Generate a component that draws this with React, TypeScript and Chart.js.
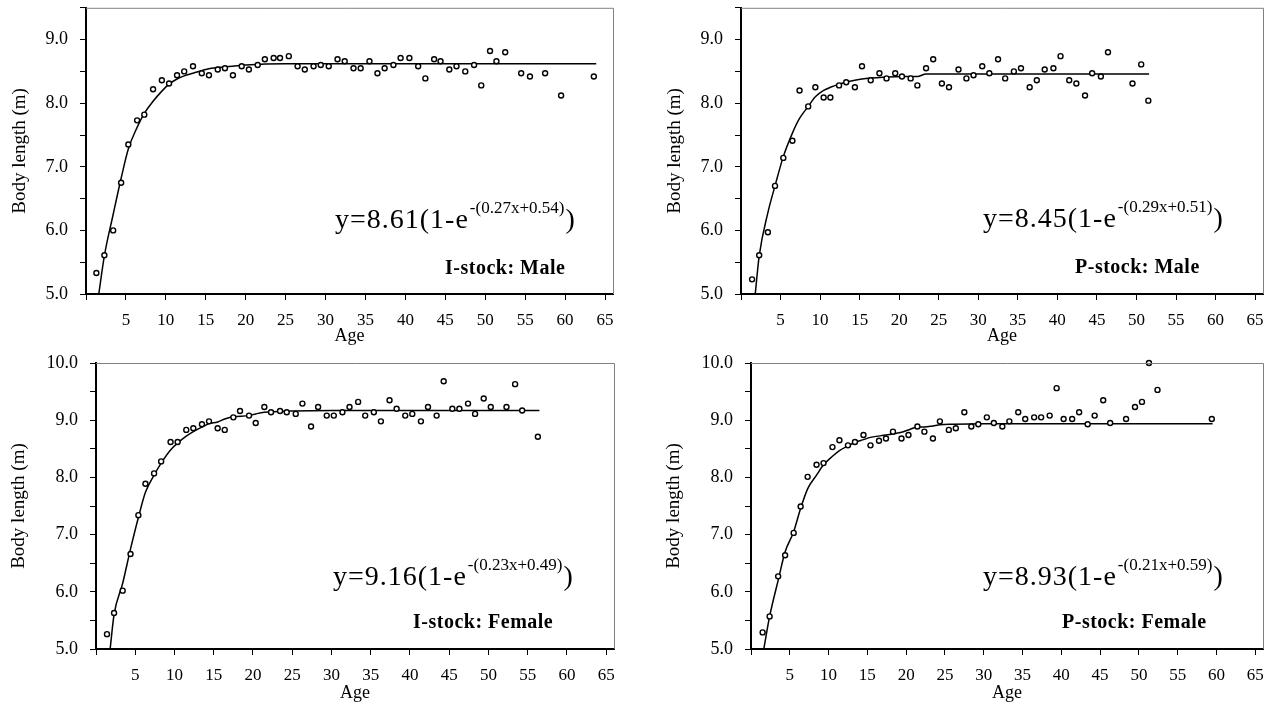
import React, { useEffect, useRef } from 'react';
import { Chart, registerables } from 'chart.js';

Chart.register(...registerables);

// ---------- Data ----------
// I-stock: Male
const iMaleAge = [1.3, 2.3, 3.4, 4.4, 5.3, 6.4, 7.3, 8.4, 9.5, 10.4, 11.4, 12.3, 13.4, 14.5, 15.4, 16.5, 17.4, 18.4, 19.5, 20.4, 21.5, 22.4, 23.5, 24.3, 25.4, 26.5, 27.4, 28.5, 29.4, 30.4, 31.5, 32.4, 33.5, 34.4, 35.5, 36.5, 37.4, 38.5, 39.4, 40.5, 41.6, 42.5, 43.6, 44.4, 45.5, 46.4, 47.5, 48.6, 49.5, 50.6, 51.4, 52.5, 54.5, 55.6, 57.5, 59.5, 63.6];
const iMaleLen = [5.33, 5.61, 6.0, 6.75, 7.35, 7.73, 7.82, 8.22, 8.36, 8.31, 8.44, 8.5, 8.58, 8.47, 8.44, 8.53, 8.55, 8.44, 8.58, 8.53, 8.6, 8.69, 8.71, 8.71, 8.74, 8.58, 8.53, 8.58, 8.6, 8.58, 8.69, 8.66, 8.55, 8.55, 8.66, 8.47, 8.55, 8.6, 8.71, 8.71, 8.58, 8.39, 8.69, 8.66, 8.53, 8.58, 8.5, 8.6, 8.28, 8.82, 8.66, 8.8, 8.47, 8.42, 8.47, 8.12, 8.42];
const iMaleFitAge = [1.6, 2.3, 3.4, 4.4, 5.3, 6.4, 7.3, 8.4, 9.5, 10.4, 11.4, 12.3, 13.4, 15.4, 17.4, 20, 25, 30, 40, 50, 63.9];
const iMaleFitLen = [5.0, 5.6, 6.25, 6.82, 7.28, 7.62, 7.84, 8.03, 8.19, 8.3, 8.38, 8.43, 8.47, 8.54, 8.57, 8.6, 8.62, 8.62, 8.62, 8.62, 8.62];

// P-stock: Male
const pMaleAge = [1.4, 2.3, 3.4, 4.3, 5.35, 6.5, 7.4, 8.5, 9.4, 10.45, 11.3, 12.4, 13.3, 14.4, 15.3, 16.4, 17.5, 18.4, 19.5, 20.35, 21.45, 22.3, 23.4, 24.3, 25.4, 26.3, 27.5, 28.5, 29.4, 30.5, 31.4, 32.5, 33.4, 34.5, 35.4, 36.5, 37.4, 38.4, 39.5, 40.4, 41.5, 42.4, 43.5, 44.4, 45.5, 46.4, 49.5, 50.6, 51.5];
const pMaleLen = [5.23, 5.61, 5.97, 6.7, 7.14, 7.41, 8.2, 7.95, 8.25, 8.09, 8.09, 8.28, 8.33, 8.25, 8.58, 8.36, 8.47, 8.39, 8.47, 8.42, 8.39, 8.28, 8.55, 8.69, 8.31, 8.25, 8.53, 8.39, 8.44, 8.58, 8.47, 8.69, 8.39, 8.5, 8.55, 8.25, 8.36, 8.53, 8.55, 8.74, 8.36, 8.31, 8.12, 8.47, 8.42, 8.8, 8.31, 8.61, 8.04];
const pMaleFitAge = [1.8, 2.3, 3.4, 4.3, 5.35, 6.5, 7.4, 8.5, 9.4, 10.45, 11.3, 12.4, 14.4, 15.3, 18.4, 20.35, 22.3, 23.4, 30, 40, 51.6];
const pMaleFitLen = [5.0, 5.6, 6.28, 6.7, 7.16, 7.53, 7.76, 7.95, 8.1, 8.2, 8.25, 8.3, 8.36, 8.38, 8.41, 8.42, 8.42, 8.46, 8.46, 8.46, 8.46];

// I-stock: Female
const iFemAge = [1.4, 2.3, 3.4, 4.4, 5.4, 6.3, 7.4, 8.3, 9.5, 10.4, 11.5, 12.4, 13.5, 14.4, 15.5, 16.4, 17.5, 18.35, 19.5, 20.35, 21.45, 22.3, 23.45, 24.3, 25.45, 26.3, 27.4, 28.3, 29.4, 30.3, 31.4, 32.3, 33.4, 34.3, 35.4, 36.3, 37.4, 38.3, 39.4, 40.3, 41.4, 42.3, 43.4, 44.3, 45.4, 46.3, 47.4, 48.3, 49.4, 50.3, 52.3, 53.4, 54.3, 56.3];
const iFemLen = [5.26, 5.63, 6.02, 6.66, 7.34, 7.89, 8.07, 8.28, 8.62, 8.62, 8.83, 8.86, 8.93, 8.98, 8.86, 8.83, 9.05, 9.16, 9.08, 8.95, 9.23, 9.14, 9.16, 9.14, 9.11, 9.29, 8.89, 9.23, 9.08, 9.08, 9.14, 9.23, 9.32, 9.08, 9.14, 8.98, 9.35, 9.2, 9.08, 9.11, 8.98, 9.23, 9.08, 9.68, 9.2, 9.2, 9.29, 9.11, 9.38, 9.23, 9.23, 9.63, 9.17, 8.71];
const iFemFitAge = [1.8, 2.3, 3.4, 4.4, 5.4, 6.3, 7.4, 8.3, 9.5, 10.4, 11.5, 12.4, 13.5, 14.4, 15.5, 16.4, 17.5, 19.5, 20.35, 21.45, 25, 30, 40, 56.5];
const iFemFitLen = [5.0, 5.6, 6.15, 6.75, 7.3, 7.74, 8.04, 8.25, 8.48, 8.6, 8.72, 8.8, 8.88, 8.94, 8.97, 9.02, 9.06, 9.08, 9.11, 9.14, 9.16, 9.17, 9.17, 9.17];

// P-stock: Female
const pFemAge = [1.5, 2.4, 3.5, 4.4, 5.5, 6.4, 7.3, 8.45, 9.35, 10.5, 11.4, 12.5, 13.4, 14.5, 15.4, 16.5, 17.4, 18.3, 19.4, 20.3, 21.45, 22.35, 23.45, 24.35, 25.5, 26.4, 27.5, 28.4, 29.3, 30.4, 31.3, 32.4, 33.3, 34.45, 35.35, 36.5, 37.4, 38.5, 39.4, 40.3, 41.4, 42.3, 43.4, 44.3, 45.4, 46.3, 48.35, 49.5, 50.4, 51.3, 52.4, 59.4];
const pFemLen = [5.29, 5.57, 6.27, 6.64, 7.03, 7.49, 8.01, 8.22, 8.25, 8.53, 8.65, 8.56, 8.62, 8.74, 8.56, 8.64, 8.68, 8.8, 8.68, 8.74, 8.89, 8.8, 8.68, 8.98, 8.83, 8.86, 9.14, 8.89, 8.93, 9.05, 8.95, 8.89, 8.98, 9.14, 9.02, 9.05, 9.05, 9.08, 9.56, 9.02, 9.02, 9.14, 8.93, 9.08, 9.35, 8.95, 9.02, 9.23, 9.32, 10.0, 9.53, 9.02];
const pFemFitAge = [1.65, 2.4, 3.5, 4.4, 5.5, 6.4, 7.3, 8.45, 9.35, 10.5, 11.4, 12.5, 13.4, 14.5, 15.4, 17.4, 19.4, 20.3, 21.45, 22.35, 23.45, 24.35, 26, 30, 40, 59.5];
const pFemFitLen = [5.0, 5.57, 6.2, 6.7, 7.05, 7.46, 7.8, 8.04, 8.22, 8.37, 8.47, 8.55, 8.61, 8.66, 8.7, 8.74, 8.79, 8.83, 8.88, 8.88, 8.9, 8.92, 8.93, 8.94, 8.94, 8.94];

const xTickStep = 5;
const yTickStep = 0.5;
const xMin = 0;
const xMax = 66;
const yMin = 5;

const SERIF = '"Liberation Serif", "Times New Roman", serif';

type PanelCfg = {
  age: number[]; len: number[]; fitAge: number[]; fitLen: number[];
  yMax: number; eqMain: string; eqSup: string; label: string;
  canvas: { left: number; top: number; w: number; h: number };
  plot: { left: number; right: number; top: number; bottom: number };
  xAxisH: number; yTitleX: number; eqPos: [number, number]; labelPos: [number, number];
};

const panels: PanelCfg[] = [
  {
    age: iMaleAge, len: iMaleLen, fitAge: iMaleFitAge, fitLen: iMaleFitLen, yMax: 9.5,
    eqMain: 'y=8.61(1-e', eqSup: '-(0.27x+0.54)', label: 'I-stock: Male',
    canvas: { left: 0, top: -15, w: 641, h: 365 },
    plot: { left: 86, right: 613, top: 7, bottom: 294 },
    xAxisH: 52, yTitleX: 20, eqPos: [335, 228], labelPos: [445, 274],
  },
  {
    age: pMaleAge, len: pMaleLen, fitAge: pMaleFitAge, fitLen: pMaleFitLen, yMax: 9.5,
    eqMain: 'y=8.45(1-e', eqSup: '-(0.29x+0.51)', label: 'P-stock: Male',
    canvas: { left: 641, top: -15, w: 641, h: 365 },
    plot: { left: 741, right: 1263, top: 7, bottom: 294 },
    xAxisH: 52, yTitleX: 675, eqPos: [983, 227], labelPos: [1075, 273],
  },
  {
    age: iFemAge, len: iFemLen, fitAge: iFemFitAge, fitLen: iFemFitLen, yMax: 10,
    eqMain: 'y=9.16(1-e', eqSup: '-(0.23x+0.49)', label: 'I-stock: Female',
    canvas: { left: 0, top: 340, w: 641, h: 371 },
    plot: { left: 96, right: 614, top: 363, bottom: 649 },
    xAxisH: 54, yTitleX: 19, eqPos: [333, 585], labelPos: [413, 628],
  },
  {
    age: pFemAge, len: pFemLen, fitAge: pFemFitAge, fitLen: pFemFitLen, yMax: 10,
    eqMain: 'y=8.93(1-e', eqSup: '-(0.21x+0.59)', label: 'P-stock: Female',
    canvas: { left: 641, top: 340, w: 641, h: 371 },
    plot: { left: 751, right: 1263, top: 363, bottom: 649 },
    xAxisH: 54, yTitleX: 674, eqPos: [983, 585], labelPos: [1062, 628],
  },
];

function Panel({ cfg }: { cfg: PanelCfg }) {
  const ref = useRef<HTMLCanvasElement>(null);
  useEffect(() => {
    const c = cfg.canvas;
    const p = cfg.plot;
    const yAxisW = p.left - c.left;
    const padTop = p.top - c.top;
    const padRight = c.left + c.w - p.right;
    const padBottom = c.top + c.h - (p.bottom + cfg.xAxisH);

    const textPlugin = {
      id: 'panelText',
      afterDraw(chart: any) {
        const ctx = chart.ctx as CanvasRenderingContext2D;
        const area = chart.chartArea;
        ctx.save();
        ctx.strokeStyle = '#808080';
        ctx.lineWidth = 1;
        ctx.beginPath();
        ctx.moveTo(area.left, area.top + 0.5);
        ctx.lineTo(area.right + 0.5, area.top + 0.5);
        ctx.lineTo(area.right + 0.5, area.bottom);
        ctx.stroke();

        ctx.fillStyle = '#000';
        ctx.textBaseline = 'alphabetic';
        ctx.textAlign = 'left';
        const ex = cfg.eqPos[0] - c.left;
        const ey = cfg.eqPos[1] - c.top;
        (ctx as any).letterSpacing = '1px';
        ctx.font = `28px ${SERIF}`;
        ctx.fillText(cfg.eqMain, ex, ey);
        const w1 = ctx.measureText(cfg.eqMain).width;
        (ctx as any).letterSpacing = '0px';
        ctx.font = `17px ${SERIF}`;
        ctx.fillText(cfg.eqSup, ex + w1 + 1, ey - 15);
        const w2 = ctx.measureText(cfg.eqSup).width;
        ctx.font = `28px ${SERIF}`;
        ctx.fillText(')', ex + w1 + w2 + 2, ey);

        (ctx as any).letterSpacing = '0.5px';
        ctx.font = `bold 20px ${SERIF}`;
        ctx.fillText(cfg.label, cfg.labelPos[0] - c.left, cfg.labelPos[1] - c.top);
        ctx.restore();
      },
    };

    const chart = new Chart(ref.current as HTMLCanvasElement, {
      type: 'scatter',
      data: {
        datasets: [
          {
            data: cfg.age.map((a, i) => ({ x: a, y: cfg.len[i] })),
            pointRadius: 2.5,
            pointBorderWidth: 1.4,
            pointBackgroundColor: '#fff',
            pointBorderColor: '#000',
            showLine: false,
            clip: false,
            order: 1,
          } as any,
          {
            data: cfg.fitAge.map((a, i) => ({ x: a, y: cfg.fitLen[i] })),
            showLine: true,
            pointRadius: 0,
            borderColor: '#000',
            borderWidth: 1.5,
            cubicInterpolationMode: 'monotone',
            fill: false,
            order: 2,
          } as any,
        ],
      },
      options: {
        animation: false,
        responsive: false,
        devicePixelRatio: 1,
        events: [],
        layout: { padding: { left: 0, top: padTop, right: padRight, bottom: padBottom } },
        plugins: { legend: { display: false }, tooltip: { enabled: false } },
        scales: {
          x: {
            type: 'linear',
            min: xMin,
            max: xMax,
            afterFit: (s: any) => { s.height = cfg.xAxisH; },
            ticks: {
              stepSize: xTickStep,
              includeBounds: false,
              autoSkip: false,
              maxRotation: 0,
              padding: 10,
              color: '#000',
              font: { family: SERIF, size: 17 },
              callback: (v: any) => (v === 0 ? '' : String(v)),
            },
            grid: { drawOnChartArea: false, drawTicks: true, tickLength: 6, color: '#000', lineWidth: 1 },
            border: { display: true, color: '#000', width: 2 },
            title: {
              display: true, text: 'Age', color: '#000',
              font: { family: SERIF, size: 18, lineHeight: 1 },
              padding: { top: 0, bottom: 1 },
            },
          },
          y: {
            type: 'linear',
            min: yMin,
            max: cfg.yMax,
            afterFit: (s: any) => { s.width = yAxisW; },
            ticks: {
              stepSize: yTickStep,
              autoSkip: false,
              padding: 12,
              color: '#000',
              font: { family: SERIF, size: 18 },
              callback: (v: any) => (Math.abs(v - Math.round(v)) < 1e-9 ? Number(v).toFixed(1) : ''),
            },
            grid: { drawOnChartArea: false, drawTicks: true, tickLength: 6, color: '#000', lineWidth: 1 },
            border: { display: true, color: '#000', width: 2 },
            title: {
              display: true, text: 'Body length (m)', color: '#000',
              font: { family: SERIF, size: 19, lineHeight: 1 },
              padding: { top: cfg.yTitleX - c.left - 9.5, bottom: 0 },
            },
          },
        },
      } as any,
      plugins: [textPlugin],
    });
    return () => chart.destroy();
  }, [cfg]);
  const c = cfg.canvas;
  return (
    <canvas
      ref={ref}
      width={c.w}
      height={c.h}
      style={{ position: 'absolute', left: c.left, top: c.top, width: c.w, height: c.h }}
    />
  );
}

export default function App() {
  return (
    <div style={{ position: 'fixed', left: 0, top: 0, width: 1282, height: 711, background: '#fff', overflow: 'hidden' }}>
      {panels.map((p, i) => (
        <Panel key={i} cfg={p} />
      ))}
    </div>
  );
}
